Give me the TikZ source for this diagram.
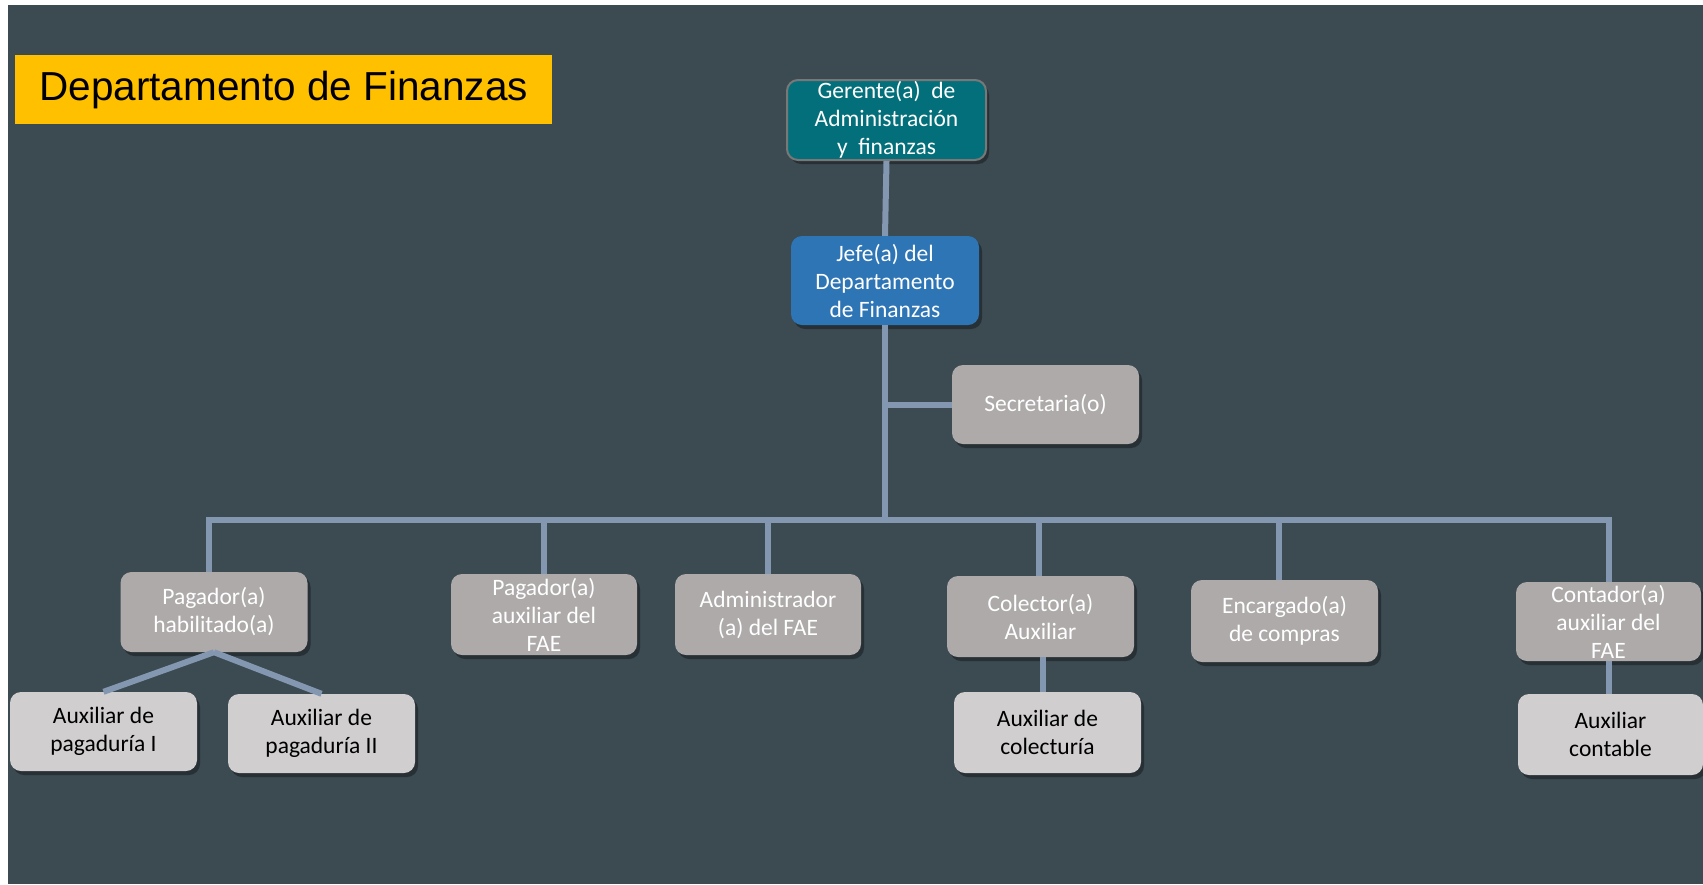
\documentclass[tikz,border=0pt]{standalone}
\usepackage{fontspec}
\setmainfont{Carlito}
\newfontfamily\titlefont{Liberation Sans}
\usetikzlibrary{shadows}

\definecolor{slate}{RGB}{60,74,82}
\definecolor{linkblue}{RGB}{132,151,176}
\definecolor{boxgray}{RGB}{174,170,170}
\definecolor{boxlight}{RGB}{208,206,206}
\definecolor{teal}{RGB}{3,111,122}
\definecolor{headblue}{RGB}{46,117,182}
\definecolor{gold}{RGB}{255,192,0}
\definecolor{rimgray}{RGB}{120,120,120}

\begin{document}
\begin{tikzpicture}[x=1pt,y=-1pt,
  card/.style={rounded corners=11pt, minimum width=187pt, minimum height=80pt,
    inner sep=0pt, align=center, font=\fontsize{23.5}{28}\selectfont,
    drop shadow={shadow xshift=3pt, shadow yshift=-4pt, opacity=0.35, fill=black}},
  midcard/.style={card, fill=boxgray, text=white},
  lowcard/.style={card, fill=boxlight, text=black},
  link/.style={draw=linkblue, line width=6pt}]

\useasboundingbox (0,0) rectangle (1703,884);
\fill[white] (0,0) rectangle (1703,884);
\fill[slate] (8,5) rectangle (1703,884);

% title banner
\node[fill=gold, minimum width=537pt, minimum height=69pt, inner sep=0pt,
  anchor=north west] (title) at (15,55)
  {\titlefont\fontsize{40.5}{41}\selectfont Departamento de Finanzas};

% top of the hierarchy
\node[card, fill=teal, text=white, draw=rimgray, line width=2pt,
  minimum width=199pt, minimum height=80pt] (ger) at (886.5,120)
  {Gerente(a)\ \ de\\Administración\\y\ \ finanzas};
\node[card, fill=headblue, text=white, minimum width=188pt, minimum height=89pt]
  (jefe) at (885,280.5) {Jefe(a) del\\Departamento\\de Finanzas};
\node[midcard, minimum height=79pt] (sec) at (1045.5,404.5) {Secretaria(o)};

% second level
\node[midcard] (pag) at (214,612) {Pagador(a)\\habilitado(a)};
\node[midcard, minimum width=186pt, minimum height=81pt] (paux) at (544,614.5)
  {Pagador(a)\\auxiliar del\\FAE};
\node[midcard, minimum width=186pt, minimum height=81pt] (adm) at (768,614.5)
  {Administrador\\(a) del FAE};
\node[midcard, minimum height=81pt] (col) at (1040.5,616.5) {Colector(a)\\Auxiliar};
\node[midcard, minimum height=82pt] (enc) at (1284.5,621) {Encargado(a)\\de compras};
\node[midcard, minimum width=185pt, minimum height=79pt] (cont) at (1608.5,621.5)
  {Contador(a)\\auxiliar del\\FAE};

% third level
\node[lowcard, minimum height=79pt] (aux1) at (103.5,731.5) {Auxiliar de\\pagaduría I};
\node[lowcard, minimum height=79pt] (aux2) at (321.5,733.5) {Auxiliar de\\pagaduría II};
\node[lowcard, minimum height=81pt] (acol) at (1047.5,732.5) {Auxiliar de\\colecturía};
\node[lowcard, minimum width=185pt, minimum height=81pt] (acont) at (1610.5,734.5)
  {Auxiliar\\contable};

% connectors
\coordinate (bus) at (885,520);
\draw[link] (ger.south) -- (jefe.north);
\draw[link] (jefe.south) -- ([yshift=3pt]jefe.south |- bus);
\draw[link] (jefe.south |- sec.west) -- (sec.west);
\draw[link] ([xshift=-5pt]pag.north) -- ([xshift=-5pt]pag.north |- bus)
  -- (cont.north |- bus) -- (cont.north);
\draw[link] (paux.north) -- (paux.north |- bus);
\draw[link] (adm.north) -- (adm.north |- bus);
\draw[link] ([xshift=-2pt]col.north) -- ([xshift=-2pt]col.north |- bus);
\draw[link] ([xshift=-6pt]enc.north) -- ([xshift=-6pt]enc.north |- bus);
\draw[link] (pag.south) -- (aux1.north);
\draw[link] (pag.south) -- (aux2.north);
\draw[link] ([xshift=2pt]col.south) -- ([xshift=2pt]col.south |- acol.north);
\draw[link] (cont.south) -- (cont.south |- acont.north);
\end{tikzpicture}
\end{document}
